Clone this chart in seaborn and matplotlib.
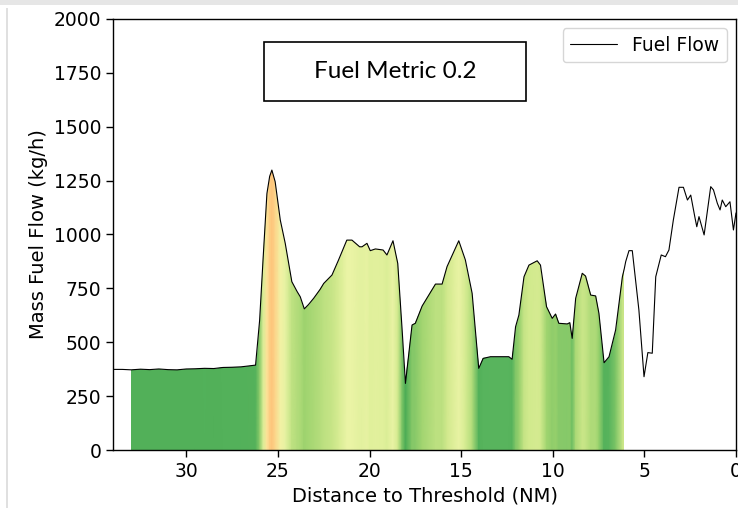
import numpy as np
import matplotlib
matplotlib.use("Agg")
import matplotlib.pyplot as plt
from matplotlib.colors import LinearSegmentedColormap, Normalize
from matplotlib.patches import Rectangle
import seaborn as sns

sns.set_style("ticks")
plt.rcParams['font.family'] = ['DejaVu Sans']
plt.rcParams.update({"text.color": "black", "axes.labelcolor": "black",
                     "xtick.color": "black", "ytick.color": "black"})

# distance to threshold (NM) and fuel flow (kg/h)
dist = [34.0, 33.5, 33.0, 32.5, 32.0, 31.5, 31.0, 30.5, 30.0, 29.5, 29.0, 28.5,
        28.0, 27.5, 27.0, 26.6, 26.22, 26.0, 25.8, 25.6, 25.45, 25.33, 25.15,
        24.87, 24.6, 24.24, 23.95, 23.78, 23.56, 23.33, 23.05, 22.7, 22.5,
        22.05, 21.69, 21.24, 20.96, 20.54, 20.41, 20.14, 19.96, 19.68, 19.26,
        19.05, 18.72, 18.46, 18.22, 18.04, 17.68, 17.5, 17.13, 16.4, 16.04,
        15.77, 15.13, 14.77, 14.4, 14.04, 13.8, 13.4, 12.4, 12.22, 12.03,
        11.85, 11.57, 11.3, 10.85, 10.67, 10.34, 10.03, 9.85, 9.67, 9.21,
        9.07, 8.94, 8.75, 8.39, 8.21, 7.93, 7.66, 7.48, 7.2, 6.93, 6.57, 6.2,
        6.1, 6.02, 5.84, 5.66, 5.3, 5.02, 4.81, 4.57, 4.38, 4.08, 3.85, 3.66,
        3.42, 3.11, 2.87, 2.65, 2.47, 2.25, 2.14, 2.02, 1.74, 1.38, 1.23,
        1.02, 0.87, 0.75, 0.56, 0.33, 0.14, 0.0]
fuel = [374, 374, 372, 375, 373, 376, 373, 372, 376, 377, 379, 378,
        383, 384, 386, 390, 394, 600, 900, 1190, 1270, 1299, 1245,
        1067, 959, 781, 735, 711, 655, 675, 704, 745, 773,
        812, 882, 974, 974, 943, 943, 959, 925, 933, 928,
        905, 971, 866, 557, 309, 580, 588, 668, 770, 770,
        851, 971, 882, 727, 379, 425, 433, 433, 421, 572,
        626, 804, 858, 878, 858, 665, 611, 631, 588, 585,
        591, 518, 704, 820, 807, 719, 715, 634, 405, 433, 557, 804,
        840, 874, 925, 925, 650, 340, 452, 449, 804, 905, 897, 928,
        1067, 1219, 1219, 1160, 1183, 1083, 1036, 1083, 998, 1222, 1207,
        1145, 1114, 1160, 1129, 1152, 1021, 1100]

fill_start = 33.0
fill_end = 6.1
metric_text = "Fuel Metric 0.2"

yticks = [0, 250, 500, 750, 1000, 1250, 1500, 1750, 2000]
xticks = [30, 25, 20, 15, 10, 5, 0]

fig = plt.figure(figsize=(7.38, 5.08), dpi=100)
ax = fig.add_axes([113 / 738, 58 / 508, 623 / 738, 431 / 508])

x = np.array(dist)
y = np.array(fuel)
m = (x <= fill_start) & (x >= fill_end)
xf, yf = x[m], y[m]

cmap = LinearSegmentedColormap.from_list("fuel", [
    (0.0, "#4aac55"), (0.15, "#5ab55e"), (0.35, "#9dd36e"),
    (0.55, "#d0e98c"), (0.68, "#ebf4a6"), (0.85, "#fbeea2"), (1.0, "#fdc67c")])
norm = Normalize(300, 1300)

poly = ax.fill_between(xf, 0, yf, facecolor="none", edgecolor="none")
X = np.vstack([xf, xf])
Y = np.vstack([np.zeros_like(xf), np.full_like(xf, 2000.0)])
C = np.vstack([yf, yf]).astype(float)
mesh = ax.pcolormesh(X, Y, C, shading="gouraud", cmap=cmap, norm=norm)
mesh.set_clip_path(poly.get_paths()[0], transform=ax.transData)

sns.lineplot(x=x, y=y, color="black", lw=0.8, label="Fuel Flow", ax=ax,
             sort=False)

ax.set_xlim(34, 0)
ax.set_ylim(0, 2000)
ax.set_xticks(xticks)
ax.set_yticks(yticks)
ax.tick_params(labelsize=13.5, length=5, width=1)
for s in ax.spines.values():
    s.set_linewidth(1)
    s.set_color("black")
ax.set_xlabel("Distance to Threshold (NM)", fontsize=14)
ax.set_ylabel("Mass Fuel Flow (kg/h)", fontsize=14)
ax.legend(loc="upper right", fontsize=13.5, handlelength=2.5)

ax.add_patch(Rectangle((0.2424, 0.8097), 0.4205, 0.1369, transform=ax.transAxes,
                       facecolor="white", edgecolor="black", lw=1.2, zorder=5))
ax.text(0.4526, 0.878, metric_text, transform=ax.transAxes, ha="center",
        va="center", fontsize=17.5, family=["Lato", "DejaVu Sans"], zorder=6)

# screenshot frame
fig.add_artist(Rectangle((0, 1 - 5 / 508), 1, 5 / 508, transform=fig.transFigure,
                         facecolor="#e6e6e6", edgecolor="none"))
fig.add_artist(Rectangle((6 / 738, 0), 2 / 738, 1 - 8 / 508, transform=fig.transFigure,
                         facecolor="#e0e0e0", edgecolor="none"))

fig.savefig("out.png", dpi=100)
